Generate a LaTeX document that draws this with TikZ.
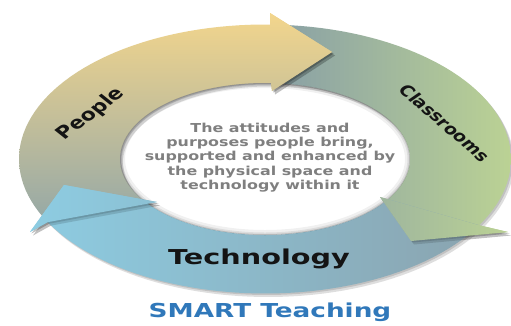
\documentclass[tikz,border=0pt]{standalone}
\usepackage{fontspec}
\setmainfont{DejaVu Sans}
\begin{document}
\begin{tikzpicture}[x=1pt,y=-1pt]
\definecolor{pplA}{HTML}{F4D68C}
\definecolor{pplB}{HTML}{D9C99E}
\definecolor{pplC}{HTML}{8FA5A8}
\definecolor{clsA}{HTML}{8BA2A5}
\definecolor{clsB}{HTML}{A8C09B}
\definecolor{clsC}{HTML}{BBD294}
\definecolor{tecA}{HTML}{8DCDE3}
\definecolor{tecB}{HTML}{92BBCC}
\definecolor{tecC}{HTML}{8AA2AD}
\definecolor{midtext}{HTML}{7F7F7F}
\definecolor{smartblue}{HTML}{3078BA}
\tikzset{
  lbl/.style={text=black!92, inner sep=0pt},
  shadowA/.style={fill=black, opacity=0.13},
  arc/.style={samples=50, variable=\t},
}
\def\cx{265}\def\cy{159}
\def\ao{246}\def\bo{134.5}
\def\ai{145}\def\bi{76}
% arrow outlines
\def\pplpath{plot[arc, domain=208:88.6] ({\cx+\ao*cos(\t)},{\cy-\bo*sin(\t)}) -- (270,13) -- (332,52) -- (272,91) -- plot[arc, domain=87.6:216] ({\cx+\ai*cos(\t)},{\cy-\bi*sin(\t)}) -- cycle}
\def\clspath{plot[arc, domain=88.6:-29.5] ({\cx+\ao*cos(\t)},{\cy-\bo*sin(\t)}) -- (508,232) -- (411,241) -- (380,197) -- plot[arc, domain=-32:87.6] ({\cx+\ai*cos(\t)},{\cy-\bi*sin(\t)}) -- cycle}
\def\tecpath{plot[arc, domain=-29.5:-152] ({\cx+\ao*cos(\t)},{\cy-\bo*sin(\t)}) -- (30,232) -- (64,185) -- (157,202) -- plot[arc, domain=-144:-32] ({\cx+\ai*cos(\t)},{\cy-\bi*sin(\t)}) -- cycle}
\def\pplhead{(270,24.5) -- (270,13) -- (332,52) -- (272,91) -- (271,83) -- cycle}
\def\clshead{({\cx+\ao*cos(-29.5)},{\cy-\bo*sin(-29.5)}) -- (508,232) -- (411,241) -- (380,197) -- ({\cx+\ai*cos(-32)},{\cy-\bi*sin(-32)}) -- cycle}
\def\techead{({\cx+\ao*cos(-152)},{\cy-\bo*sin(-152)}) -- (30,232) -- (64,185) -- (157,202) -- ({\cx+\ai*cos(-144)},{\cy-\bi*sin(-144)}) -- cycle}
% shading fills
\def\pplfill{\shade[top color=pplA, middle color=pplB, bottom color=pplC] (0,10) rectangle (340,236);}
\def\clsfill{\shade[left color=clsA, middle color=clsB, right color=clsC] (285,0) rectangle (511,245);}
\def\tecfill{\shade[left color=tecA, middle color=tecB, right color=tecC] (20,180) rectangle (500,300);}
\def\shapewith#1#2{%
  \fill[shadowA, shift={(1.5,1.5)}] #1;
  \fill[shadowA, shift={(3,3.5)}] #1;
  \begin{scope}\clip #1; #2\end{scope}}

\useasboundingbox (0,0) rectangle (511,325);
\fill[white] (0,0) rectangle (511,325);

% bodies
\shapewith{\clspath}{\clsfill}
\shapewith{\pplpath}{\pplfill}
\shapewith{\tecpath}{\tecfill}

% soft rim round the white centre
\begin{scope}
  \clip (\cx,\cy) ellipse [x radius=\ai, y radius=\bi];
  \draw[black, opacity=0.06, line width=10pt] (\cx,\cy) ellipse [x radius=\ai, y radius=\bi];
  \draw[black, opacity=0.08, line width=5pt] (\cx,\cy) ellipse [x radius=\ai, y radius=\bi];
  \draw[black, opacity=0.12, line width=2pt] (\cx,\cy) ellipse [x radius=\ai, y radius=\bi];
\end{scope}

% heads on top
\shapewith{\pplhead}{\pplfill}
\shapewith{\clshead}{\clsfill}
\shapewith{\techead}{\tecfill}

% labels
\node[lbl, font=\bfseries\fontsize{17}{17}\selectfont, xscale=1.3, rotate=44] (people) at (91,114) {People};
\node[lbl, font=\bfseries\fontsize{15}{15}\selectfont, xscale=1.3, rotate=-48] (classrooms) at (445,123) {Classrooms};
\node[lbl, font=\bfseries\fontsize{20.5}{20.5}\selectfont, xscale=1.4] (technology) at (259,259) {Technology};
\node[font=\bfseries\fontsize{12.3}{14.3}\selectfont, text=midtext, align=center, inner sep=0pt, xscale=1.29] (centre) at (270,157.5)
  {The attitudes and\\purposes people bring,\\supported and enhanced by\\the physical space and\\technology within it};
\node[font=\bfseries\fontsize{19.2}{19.2}\selectfont, text=smartblue, inner sep=0pt, xscale=1.37, anchor=base] (title) at (270,317) {SMART Teaching};
\end{tikzpicture}
\end{document}
